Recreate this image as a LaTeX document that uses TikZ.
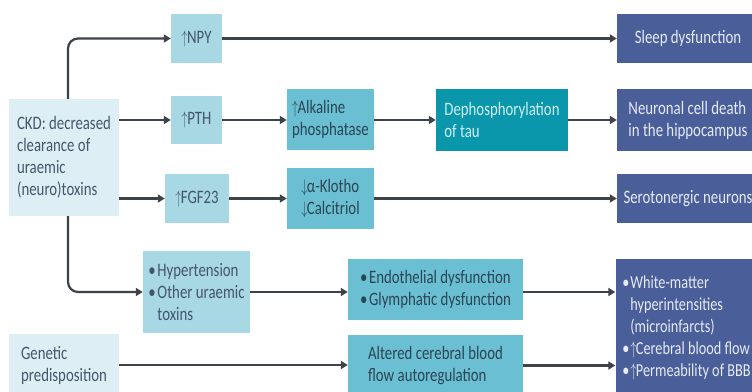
\documentclass[tikz,border=0pt]{standalone}
\usepackage{fontspec}
\setmainfont{Carlito}[FakeStretch=0.78]
\usetikzlibrary{arrows.meta}
\definecolor{cA}{HTML}{DDEFF5}
\definecolor{cB}{HTML}{A8D8E4}
\definecolor{cC}{HTML}{6BBFD2}
\definecolor{cD}{HTML}{0A97AB}
\definecolor{cE}{HTML}{4A5F9A}
\definecolor{tA}{HTML}{44566A}
\definecolor{tC}{HTML}{2A4556}
\definecolor{tD}{HTML}{D2ECF1}
\definecolor{tE}{HTML}{E6EAF4}
\definecolor{ar}{HTML}{3D4349}
\newcommand\myup{\scalebox{0.7}[1.05]{$\uparrow$}\kern-0.5pt}
\newcommand\mydown{\scalebox{0.7}[1.05]{$\downarrow$}\kern-0.5pt}
\newcommand\bul{\makebox[9pt][l]{\textbullet}}
\newcommand\nobul{\makebox[9pt][l]{}}
\newcommand\wbul{\makebox[8pt][l]{\textbullet}}
\newcommand\wnobul{\makebox[8pt][l]{}}
\begin{document}
\begin{tikzpicture}[x=1pt,y=-1pt,
  box/.style={inner sep=0pt, align=left, font=\fontsize{19}{22}\selectfont},
  lA/.style={box, fill=cA, text=tA},
  lB/.style={box, fill=cB, text=tA},
  lC/.style={box, fill=cC, text=tC},
  lD/.style={box, fill=cD, text=tD},
  lE/.style={box, fill=cE, text=tE},
  arr/.style={draw=ar, line width=2.2pt, -{Triangle[length=7pt,width=8pt]}}]
\useasboundingbox (0,0) rectangle (752,391);
\clip (0,0) rectangle (752,391);
\fill[white] (0,0) rectangle (752,391);
% column 1
\node[lA, minimum width=110pt, minimum height=117pt] (ckd) at (64,157.5) {CKD: decreased\\clearance of\\uraemic\\(neuro)toxins};
\node[lA, minimum width=110pt, minimum height=62pt] (gen) at (64,365) {Genetic\\predisposition};
% column 2
\node[lB, minimum width=51pt, minimum height=49pt] (npy) at (196.5,38.5) {\myup NPY};
\node[lB, minimum width=51pt, minimum height=48pt] (pth) at (196.5,120) {\myup PTH};
\node[lB, minimum width=64pt, minimum height=49pt] (fgf) at (197,198.5) {\myup FGF23};
\node[lB, minimum width=107pt, minimum height=82pt] (hyp) at (196.5,292) {\bul Hypertension\\\bul Other uraemic\\\nobul toxins};
% column 3
\node[lC, minimum width=87pt, minimum height=61pt] (alk) at (330.5,119.5) {\myup Alkaline\\phosphatase};
\node[lC, minimum width=87pt, minimum height=61pt] (klo) at (330.5,198.5) {\mydown α-Klotho\\\mydown Calcitriol};
\node[lC, minimum width=175pt, minimum height=61pt] (endo) at (435.5,289.5) {\bul Endothelial dysfunction\\\bul Glymphatic dysfunction};
\node[lC, minimum width=175pt, minimum height=61pt] (alt) at (435.5,365.5) {Altered cerebral blood\\flow autoregulation};
% column 4
\node[lD, minimum width=132pt, minimum height=62pt] (dep) at (502,120) {Dephosphorylation\\of tau};
% outcomes
\node[lE, minimum width=142pt, minimum height=49pt] (sleep) at (688,38.5) {Sleep dysfunction};
\node[lE, minimum width=142pt, minimum height=62pt] (neur) at (688,120) {Neuronal cell death\\in the hippocampus};
\node[lE, minimum width=142pt, minimum height=49pt] (sero) at (688,198.5) {Serotonergic neurons};
\node[lE, minimum width=142pt, minimum height=137pt, font=\fontsize{18.3}{22}\selectfont] (wm) at (686.5,327.5) {\wbul White-matter\\\wnobul hyperintensities\\\wnobul (microinfarcts)\\\wbul\myup Cerebral blood flow\\\wbul\myup Permeability of BBB};
% connectors
\draw[arr, rounded corners=10pt] ([xshift=4pt]ckd.north) |- (npy.west);
\draw[arr] (npy.east) -- (sleep.west);
\draw[arr] (ckd.east |- pth.west) -- (pth.west);
\draw[arr] (pth.east) -- (alk.west |- pth.east);
\draw[arr] (alk.east |- dep.west) -- (dep.west);
\draw[arr] (dep.east) -- (neur.west);
\draw[arr] (ckd.east |- fgf.west) -- (fgf.west);
\draw[arr] (fgf.east) -- (klo.west |- fgf.east);
\draw[arr] (klo.east) -- (sero.west);
\draw[arr, rounded corners=10pt] ([xshift=4pt]ckd.south) |- (hyp.west);
\draw[arr] (hyp.east) -- (endo.west |- hyp.east);
\draw[arr] (endo.east |- hyp.east) -- (wm.west |- hyp.east);
\draw[arr] (gen.east) -- (alt.west |- gen.east);
\draw[arr] (alt.east) -- (wm.west |- alt.east);
\end{tikzpicture}
\end{document}
